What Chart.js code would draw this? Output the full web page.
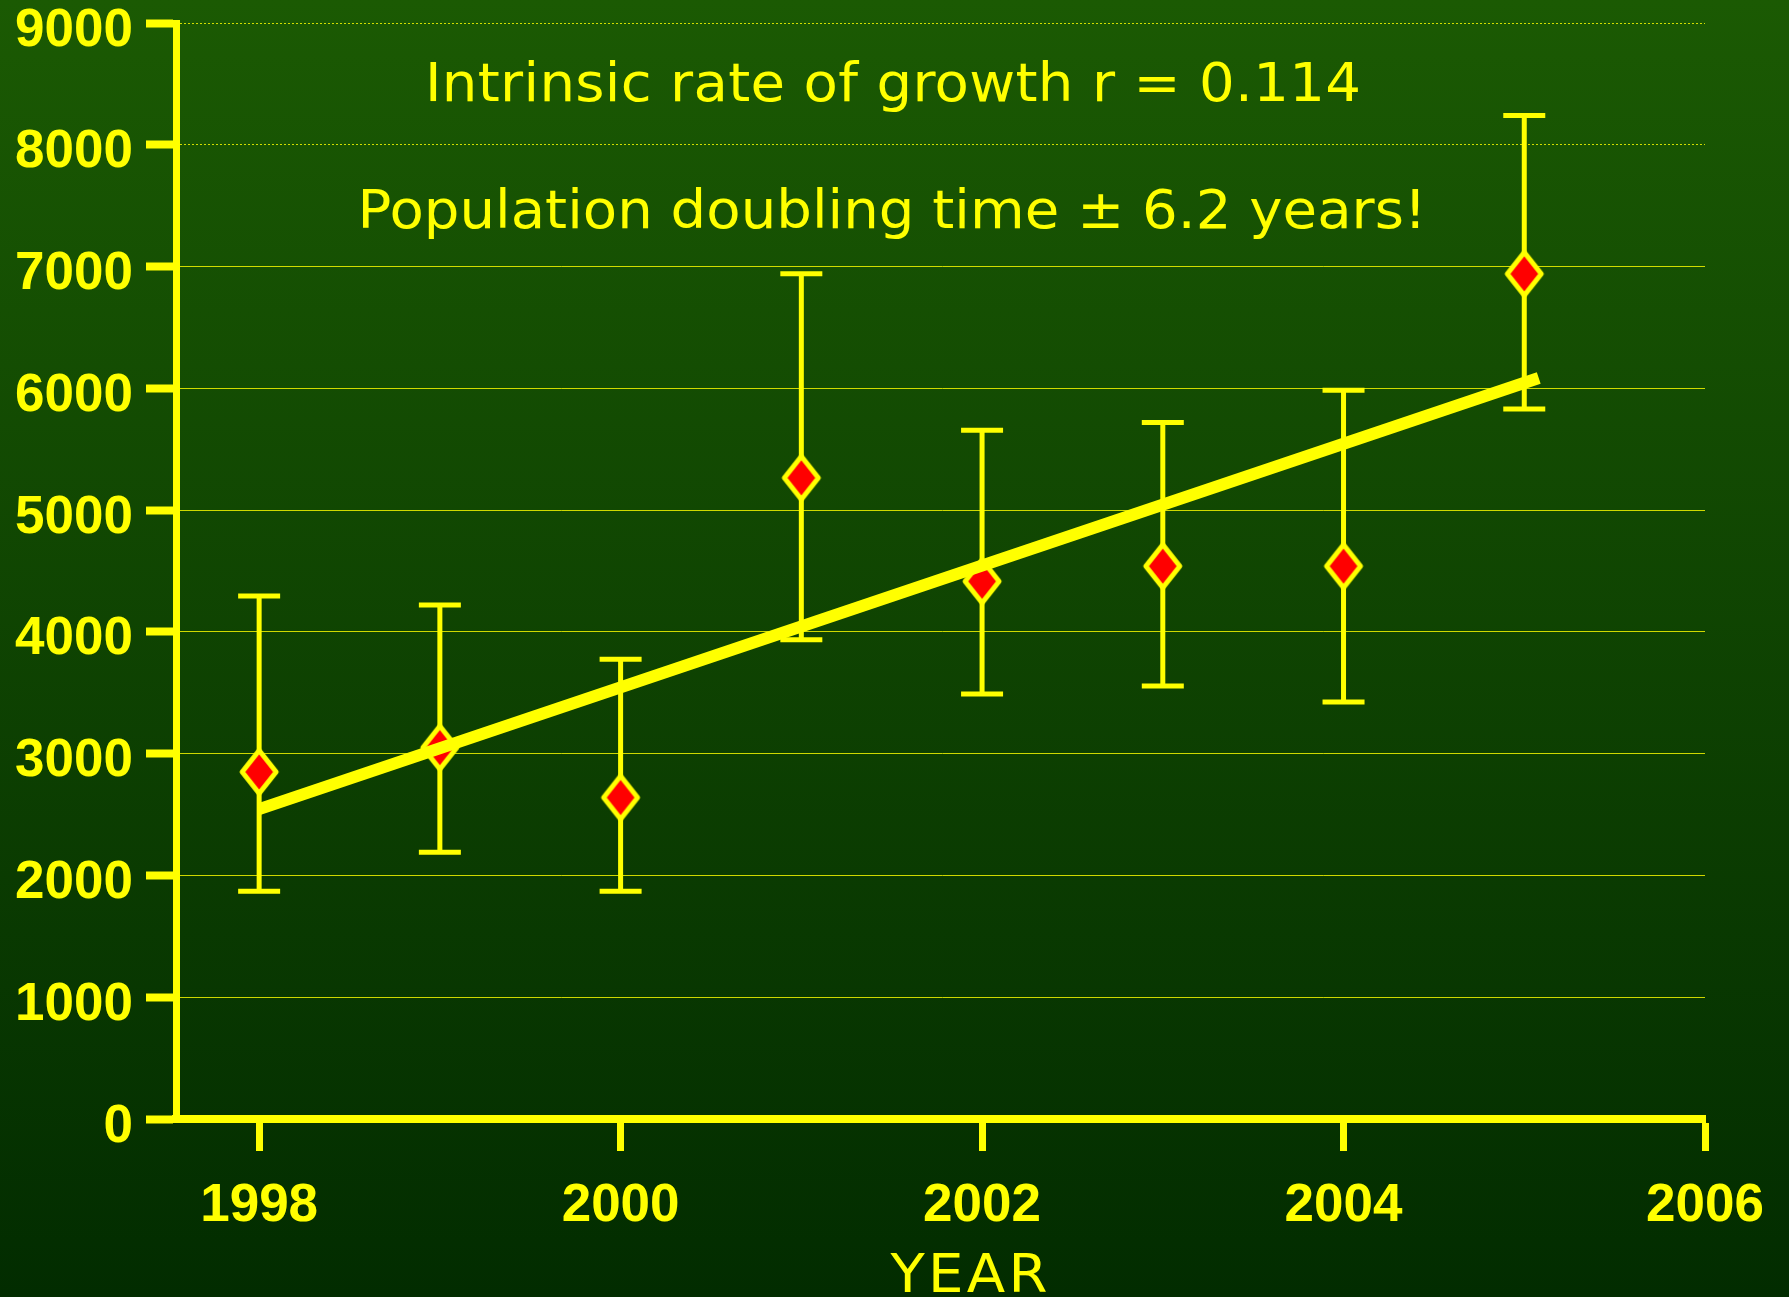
<!DOCTYPE html>
<html>
<head>
<meta charset="utf-8">
<script src="https://cdn.jsdelivr.net/npm/chart.js@4/dist/chart.umd.min.js"></script>
<style>
  html, body { margin: 0; padding: 0; background: #0f4302; }
  #wrap { width: 1789px; height: 1297px; }
</style>
</head>
<body>
<div id="wrap"><canvas id="chart" width="1789" height="1297"></canvas></div>
<script>
// Population counts per year, with the upper and lower ends of each error bar.
var years      = [1998, 1999, 2000, 2001, 2002, 2003, 2004, 2005];
var population = [2850, 3050, 2640, 5265, 4415, 4540, 4540, 6940];
var upper      = [4295, 4220, 3775, 6940, 5655, 5720, 5985, 8240];
var lower      = [1870, 2190, 1870, 3935, 3490, 3555, 3425, 5830];

var trendYears  = [1998, 2005.08];
var trendValues = [2545, 6085];

// Axis ticks.
var xTicks = [1998, 2000, 2002, 2004, 2006];
var yTicks = [0, 1000, 2000, 3000, 4000, 5000, 6000, 7000, 8000, 9000];

var notes = ['Intrinsic rate of growth r = 0.114', 'Population doubling time \u00b1 6.2 years!'];
var xTitle = 'YEAR';

var YELLOW = '#ffff00';

// ----------------------------------------------------------------------------

// Red diamond with a thick yellow rim, taller than it is wide.
function diamond() {
  var c = document.createElement('canvas');
  c.width = 42;
  c.height = 52;
  var g = c.getContext('2d');
  g.beginPath();
  g.moveTo(21, 4.5);
  g.lineTo(38, 26);
  g.lineTo(21, 47.5);
  g.lineTo(4, 26);
  g.closePath();
  g.fillStyle = '#ff0000';
  g.fill();
  g.lineWidth = 5;
  g.lineJoin = 'round';
  g.strokeStyle = YELLOW;
  g.stroke();
  return c;
}

// Draws text so it spans a given width: a little stretch, the rest as spacing.
function spreadText(ctx, text, cx, baseline, width) {
  var w = ctx.measureText(text).width;
  var stretch = Math.min(1.06, width / w);
  var gap = (width - w * stretch) / (text.length - 1) / stretch;
  ctx.save();
  ctx.letterSpacing = gap + 'px';
  ctx.textAlign = 'left';
  ctx.textBaseline = 'alphabetic';
  ctx.translate(cx - width / 2, baseline);
  ctx.scale(stretch, 1);
  ctx.fillText(text, 0, 0);
  ctx.restore();
}

var background = {
  id: 'background',
  beforeDraw: function(chart) {
    var ctx = chart.ctx;
    var grad = ctx.createLinearGradient(0, 0, 0, chart.height);
    grad.addColorStop(0, '#1b5a03');
    grad.addColorStop(1, '#022c00');
    ctx.save();
    ctx.fillStyle = grad;
    ctx.fillRect(0, 0, chart.width, chart.height);
    ctx.restore();
  }
};

// Vertical error bars with flat caps, placed through the chart's scales.
var errorBars = {
  id: 'errorBars',
  beforeDatasetsDraw: function(chart) {
    var ctx = chart.ctx;
    var xs = chart.scales.x;
    var ys = chart.scales.y;
    ctx.save();
    ctx.strokeStyle = YELLOW;
    ctx.lineWidth = 5;
    ctx.lineCap = 'butt';
    for (var i = 0; i < years.length; i++) {
      var x = xs.getPixelForValue(years[i]);
      var top = ys.getPixelForValue(upper[i]);
      var bottom = ys.getPixelForValue(lower[i]);
      ctx.beginPath();
      ctx.moveTo(x, top);
      ctx.lineTo(x, bottom);
      ctx.moveTo(x - 21, top);
      ctx.lineTo(x + 21, top);
      ctx.moveTo(x - 21, bottom);
      ctx.lineTo(x + 21, bottom);
      ctx.stroke();
    }
    ctx.restore();
  }
};

// The two notes at the top and the axis title under the years.
var captions = {
  id: 'captions',
  afterDraw: function(chart) {
    var ctx = chart.ctx;
    ctx.save();
    ctx.fillStyle = YELLOW;
    ctx.font = '53px "DejaVu Sans", Verdana, sans-serif';
    spreadText(ctx, notes[0], 893, 101, 936);
    spreadText(ctx, notes[1], 892, 228, 1069);
    spreadText(ctx, xTitle, 969, 1292, 157);
    ctx.restore();
  }
};

var tickFont = { family: '"Liberation Sans", Arial, sans-serif', size: 53, weight: 'bold', lineHeight: 0.8 };

new Chart(document.getElementById('chart'), {
  type: 'scatter',
  data: {
    datasets: [
      {
        type: 'line',
        data: trendYears.map(function(x, i) { return { x: x, y: trendValues[i] }; }),
        borderColor: YELLOW,
        borderWidth: 12,
        borderCapStyle: 'butt',
        pointRadius: 0,
        fill: false
      },
      {
        data: years.map(function(x, i) { return { x: x, y: population[i] }; }),
        pointStyle: diamond(),
        pointRadius: 22,
        showLine: false
      }
    ]
  },
  options: {
    responsive: false,
    animation: false,
    layout: { padding: { left: 0, right: 84, top: 22, bottom: 0 } },
    plugins: {
      legend: { display: false },
      tooltip: { enabled: false }
    },
    scales: {
      x: {
        type: 'linear',
        min: 1997.54,
        max: 2006,
        afterBuildTicks: function(scale) {
          scale.ticks = xTicks.map(function(v) { return { value: v }; });
        },
        afterFit: function(scale) {
          scale.height = 178;
          scale.paddingLeft = 0;
          scale.paddingRight = 0;
        },
        border: { display: true, color: YELLOW, width: 8 },
        grid: {
          drawOnChartArea: false,
          drawTicks: true,
          tickLength: 32,
          tickWidth: 7,
          tickColor: YELLOW
        },
        ticks: {
          color: YELLOW,
          font: tickFont,
          padding: 34,
          maxRotation: 0,
          autoSkip: false,
          callback: function(v) { return String(v); }
        }
      },
      y: {
        min: 0,
        max: 9000,
        afterBuildTicks: function(scale) {
          scale.ticks = yTicks.map(function(v) { return { value: v }; });
        },
        afterFit: function(scale) {
          scale.width = 176;
          scale.paddingTop = 0;
          scale.paddingBottom = 0;
        },
        border: {
          display: true,
          color: YELLOW,
          width: 7,
          // The two top grid lines are dotted, the rest are solid.
          dash: function(ctx) {
            return ctx.tick && ctx.tick.value >= 8000 ? [2, 2] : [];
          }
        },
        grid: {
          color: 'rgba(255,255,0,0.8)',
          lineWidth: 1,
          drawTicks: true,
          tickLength: 30,
          tickWidth: 8,
          tickColor: YELLOW,
          tickBorderDash: []
        },
        ticks: {
          color: YELLOW,
          font: tickFont,
          padding: 13,
          labelOffset: 8,
          autoSkip: false,
          callback: function(v) { return String(v); }
        }
      }
    }
  },
  plugins: [background, errorBars, captions]
});
</script>
</body>
</html>
